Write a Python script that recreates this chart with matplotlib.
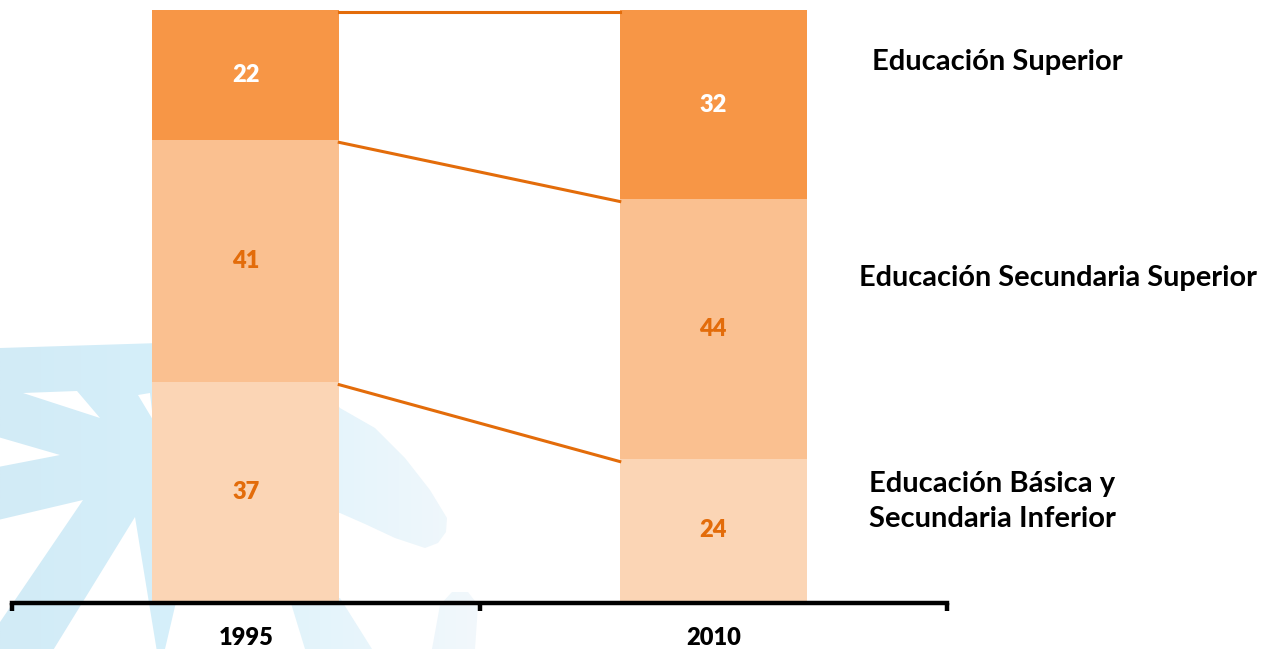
import numpy as np
import matplotlib.pyplot as plt
from matplotlib.patches import Polygon
from matplotlib.colors import LinearSegmentedColormap

years = ['1995', '2010']
basica = [37, 24]
secundaria = [41, 44]
superior = [22, 32]
series_names = ['Educación Básica y\nSecundaria Inferior', 'Educación Secundaria Superior', 'Educación Superior']

colors = ['#FBD5B5', '#FAC090', '#F79646']
label_colors = ['#E36C0A', '#E36C0A', 'white']
line_color = '#E36C0A'

plt.rcParams['font.family'] = ['Lato', 'DejaVu Sans']

fig = plt.figure(figsize=(12.72, 6.49), dpi=100)

# faint watermark logo in the background (pixel coords)
bg = fig.add_axes([0, 0, 1, 1], zorder=0)
bg.set_xlim(0, 1272)
bg.set_ylim(649, 0)
bg.axis('off')
cmap = LinearSegmentedColormap.from_list('wm', ['#D2EBF6', '#D5EFFA', '#E4F4FB', '#F2F8FC'])
grad = np.tile(np.linspace(0, 1, 256), (2, 1))
main = [(0, 348), (160, 343), (300, 360), (340, 408), (375, 428), (405, 458), (430, 490),
        (447, 518), (446, 532), (438, 543), (425, 548), (395, 538), (365, 524), (340, 513),
        (200, 500), (165, 649), (0, 649)]
extra = [[(290, 600), (340, 598), (372, 649), (305, 649)],
         [(432, 649), (440, 605), (452, 592), (468, 592), (478, 605), (475, 649)]]
for poly in [main] + extra:
    p = Polygon(poly, closed=True, facecolor='none', edgecolor='none')
    bg.add_patch(p)
    im = bg.imshow(grad, cmap=cmap, extent=[0, 480, 649, 340], aspect='auto', zorder=0)
    im.set_clip_path(p)
wedges = [[(23, 393), (77, 391), (100, 418)],
          [(-2, 437), (60, 455), (-2, 467)],
          [(138, 395), (150, 393), (153, 420)],
          [(-2, 520), (83, 500), (-2, 625)],
          [(135, 517), (157, 652), (52, 652)]]
for wg in wedges:
    bg.add_patch(Polygon(wg, closed=True, facecolor='white', edgecolor='none', zorder=1))
bg.set_xlim(0, 1272)
bg.set_ylim(649, 0)

ax = fig.add_axes([12 / 1272, 48 / 649, 935 / 1272, 591 / 649], zorder=1)
ax.patch.set_alpha(0)

x = np.arange(len(years))
w = 0.4
bottom = np.zeros(len(years))
stack = [basica, secundaria, superior]
for vals, c, lc in zip(stack, colors, label_colors):
    ax.bar(x, vals, w, bottom=bottom, color=c, zorder=2)
    for xi, b, v in zip(x, bottom, vals):
        ax.text(xi, b + v / 2, str(v), ha='center', va='center', color=lc,
                fontsize=17, fontweight='heavy', zorder=3)
    bottom = bottom + np.array(vals)
    # connector lines between the two bars at each boundary
    ax.plot([x[0] + w / 2, x[1] - w / 2], [bottom[0] - 0.4, bottom[1] - 0.4], color=line_color,
            lw=2.2, zorder=3, clip_on=False)

# series names at the right
ax.text(1.333, 16.8, series_names[0], ha='left', va='center', fontsize=21, fontweight='bold',
        linespacing=1.45)
ax.text(1.312, 54.7, series_names[1], ha='left', va='center', fontsize=20.8, fontweight='bold')
ax.text(1.34, 91.2, series_names[2], ha='left', va='center', fontsize=21, fontweight='bold')

ax.set_xlim(-0.5, 1.5)
ax.set_ylim(0, 100)
for s in ['top', 'right', 'left']:
    ax.spines[s].set_visible(False)
ax.spines['bottom'].set_linewidth(3.2)
ax.spines['bottom'].set_position(('outward', 1.5))
ax.set_yticks([])
ax.set_xticks([-0.5, 0.5, 1.5])
ax.set_xticklabels([])
ax.tick_params(axis='x', which='major', length=6, width=3.2, direction='out')
ax.set_xticks(x, minor=True)
ax.set_xticklabels(years, minor=True, fontsize=17, fontweight='heavy')
ax.tick_params(axis='x', which='minor', length=0, pad=17)

fig.savefig('out.png', dpi=100)
